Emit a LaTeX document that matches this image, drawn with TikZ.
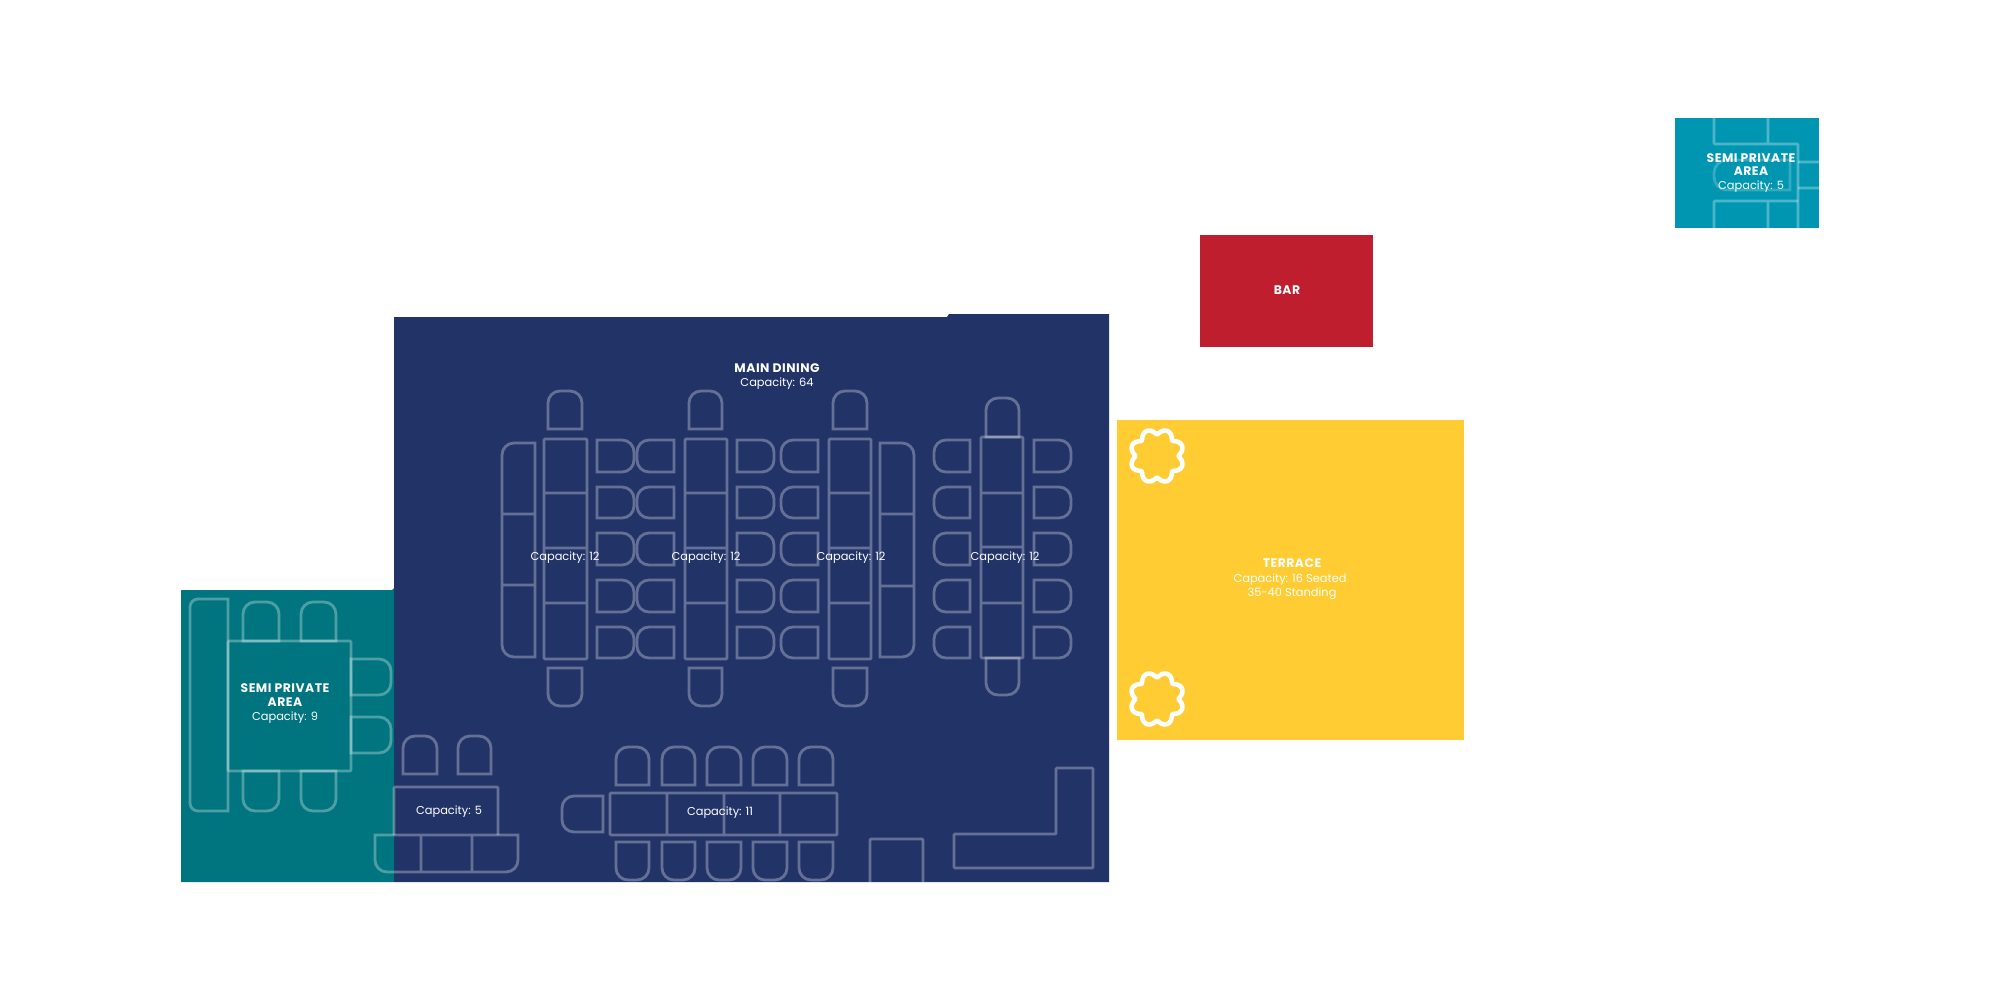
\documentclass[tikz,border=0pt]{standalone}
\usepackage{fontspec}
\setmainfont{Poppins}
\newfontfamily\headfont{Poppins}[UprightFont=* Bold,LetterSpace=4]
\definecolor{navy}{HTML}{223368}
\definecolor{tealroom}{HTML}{00757F}
\definecolor{bluer}{HTML}{0096B2}
\definecolor{redr}{HTML}{BE1E2D}
\definecolor{yel}{HTML}{FFCC33}
\tikzset{
 furn/.style={draw=white,draw opacity=0.3,line width=1.4pt,line join=miter},
 straight/.style={furn,rounded corners=0.5pt},
 headlbl/.style={text=white,font=\headfont\fontsize{6.2}{7}\selectfont,inner sep=0pt},
 caplbl/.style={text=white,font=\fontsize{5.7}{7}\selectfont,inner sep=0pt},
 tree/.style={draw=white,line width=2.3pt,line join=round},
}
\newcommand{\rrT}[4]{\draw[furn] (#1,#4) [rounded corners=6pt] -- (#1,#2) -- (#3,#2) [sharp corners] -- (#3,#4) -- cycle;}
\newcommand{\rrB}[4]{\draw[furn] (#1,#2) [rounded corners=6pt] -- (#1,#4) -- (#3,#4) [sharp corners] -- (#3,#2) -- cycle;}
\newcommand{\rrL}[4]{\draw[furn] (#3,#2) [rounded corners=6pt] -- (#1,#2) -- (#1,#4) [sharp corners] -- (#3,#4) -- cycle;}
\newcommand{\rrR}[4]{\draw[furn] (#1,#2) [rounded corners=6pt] -- (#3,#2) -- (#3,#4) [sharp corners] -- (#1,#4) -- cycle;}
\newcommand{\flower}[2]{\draw[tree,shift={(#1,#2)}] plot[domain=0:360,samples=145,smooth] (\x:{21pt*0.5+6pt*0.5*sqrt(pow(cos(4*(\x-22.5)),2)+0.01)}) -- cycle;}
\begin{document}
\begin{tikzpicture}[x=0.5pt,y=-0.5pt]
\useasboundingbox (0,0) rectangle (2000,1000);
\fill[white] (0,0) rectangle (2000,1000);
% rooms
\fill[navy] (394,317) -- (947,317) -- (949,314) -- (1109,314) -- (1109,882) -- (394,882) -- cycle;
\fill[tealroom] (181,590) -- (392,590) -- (394,588) -- (394,882) -- (181,882) -- cycle;
\fill[bluer] (1675,118) rectangle (1819,228);
\fill[redr] (1200,235) rectangle (1373,347);
\fill[yel] (1117,420) rectangle (1464,740);
% teal room furniture
\draw[furn] (228,599) [rounded corners=4pt] -- (190,599) -- (190,811) [sharp corners] -- (228,811) -- cycle;
\draw[straight] (228,641) rectangle (351,771);
\rrT{243}{602}{279}{641}
\rrT{301}{602}{336}{641}
\rrB{243}{771}{279}{811}
\rrB{301}{771}{336}{811}
\rrR{351}{659}{391}{695}
\rrR{351}{717}{391}{753}
% capacity 5 table
\rrT{403}{736}{437}{774}
\rrT{458}{736}{491}{774}
\draw[straight] (394,835) -- (394,787) -- (498,787) -- (498,835);
\draw[furn] (375,835) [rounded corners=6pt] -- (375,872) -- (518,872) [sharp corners] -- (518,835) -- cycle (421,835) -- (421,872) (472,835) -- (472,872);
% left bench
\draw[furn] (535,443) [rounded corners=6pt] -- (502,443) -- (502,657) [sharp corners] -- (535,657) -- cycle (502,514) -- (535,514) (502,585) -- (535,585);
% right bench
\draw[furn] (880,443) [rounded corners=6pt] -- (914,443) -- (914,657) [sharp corners] -- (880,657) -- cycle (880,514) -- (914,514) (880,586) -- (914,586);
% long tables
\foreach \xa/\xb/\ca/\cb in {544/587/548/582, 685/727/689/722, 829/871/833/867}{
  \draw[straight] (\xa,439) rectangle (\xb,659) (\xa,493) -- (\xb,493) (\xa,548) -- (\xb,548) (\xa,603) -- (\xb,603);
  \rrT{\ca}{391}{\cb}{429}
  \rrB{\ca}{668}{\cb}{706}
}
\draw[straight] (981,437) rectangle (1023,658) (981,493) -- (1023,493) (981,547) -- (1023,547) (981,603) -- (1023,603);
\rrT{986}{398}{1019}{437}
\rrB{986}{658}{1019}{695}
% side chairs
\foreach \ya/\yb in {440/472,487/518,533/565,580/612,627/658}{
  \rrR{597}{\ya}{634}{\yb}
  \rrL{637}{\ya}{674}{\yb}
  \rrR{737}{\ya}{774}{\yb}
  \rrL{781}{\ya}{818}{\yb}
  \rrL{934}{\ya}{970}{\yb}
  \rrR{1034}{\ya}{1071}{\yb}
}
% capacity 11 table
\draw[straight] (610,793) rectangle (837,835) (667,793) -- (667,835) (724,793) -- (724,835) (780,793) -- (780,835);
\foreach \ca/\cb in {616/649,662/695,707/741,753/787,799/833}{
  \rrT{\ca}{747}{\cb}{785}
  \rrB{\ca}{842}{\cb}{880}
}
\rrL{562}{796}{603}{832}
% service counter
\draw[straight] (870,882) -- (870,839) -- (923,839) -- (923,882);
\draw[straight] (954,834) -- (1056,834) -- (1056,768) -- (1093,768) -- (1093,868) -- (954,868) -- cycle;
% blue room furniture
\draw[straight] (1714,118) -- (1714,144) -- (1798,144) -- (1798,228) (1768,118) -- (1768,144);
\draw[straight] (1714,228) -- (1714,201) -- (1798,201) (1768,201) -- (1768,228);
\draw[furn,rounded corners=0.5pt] (1798,162) -- (1808,162) -- (1819,162.01) (1798,188) -- (1808,188) -- (1819,188.01);
\draw[furn,draw opacity=0.2] (1790,160) [rounded corners=6.5pt] -- (1714,160) -- (1714,190) [sharp corners] -- (1790,190) -- cycle;
% trees
\flower{1157}{456}
\flower{1157}{699}
% labels
\node[headlbl] (mainT) at (777,368) {MAIN DINING};
\node[caplbl] (mainC) at (777,384) {Capacity: 64};
\node[caplbl] (t1) at (565,558) {Capacity: 12};
\node[caplbl] (t2) at (706,558) {Capacity: 12};
\node[caplbl] (t3) at (851,558) {Capacity: 12};
\node[caplbl] (t4) at (1005,558) {Capacity: 12};
\node[caplbl] (t5) at (449,812) {Capacity: 5};
\node[caplbl] (t6) at (720,813) {Capacity: 11};
\node[headlbl] (s1a) at (285,688) {SEMI PRIVATE};
\node[headlbl] (s1b) at (285,702) {AREA};
\node[caplbl] (s1c) at (285,718) {Capacity: 9};
\node[headlbl] (s2a) at (1751,158) {SEMI PRIVATE};
\node[headlbl] (s2b) at (1751,171) {AREA};
\node[caplbl] (s2c) at (1751,187) {Capacity: 5};
\node[headlbl] (bar) at (1287,290) {BAR};
\node[headlbl] (terT) at (1292,563) {TERRACE};
\node[caplbl] (terC) at (1290,580) {Capacity: 16 Seated};
\node[caplbl] (terD) at (1292,594) {35-40 Standing};
\end{tikzpicture}
\end{document}
